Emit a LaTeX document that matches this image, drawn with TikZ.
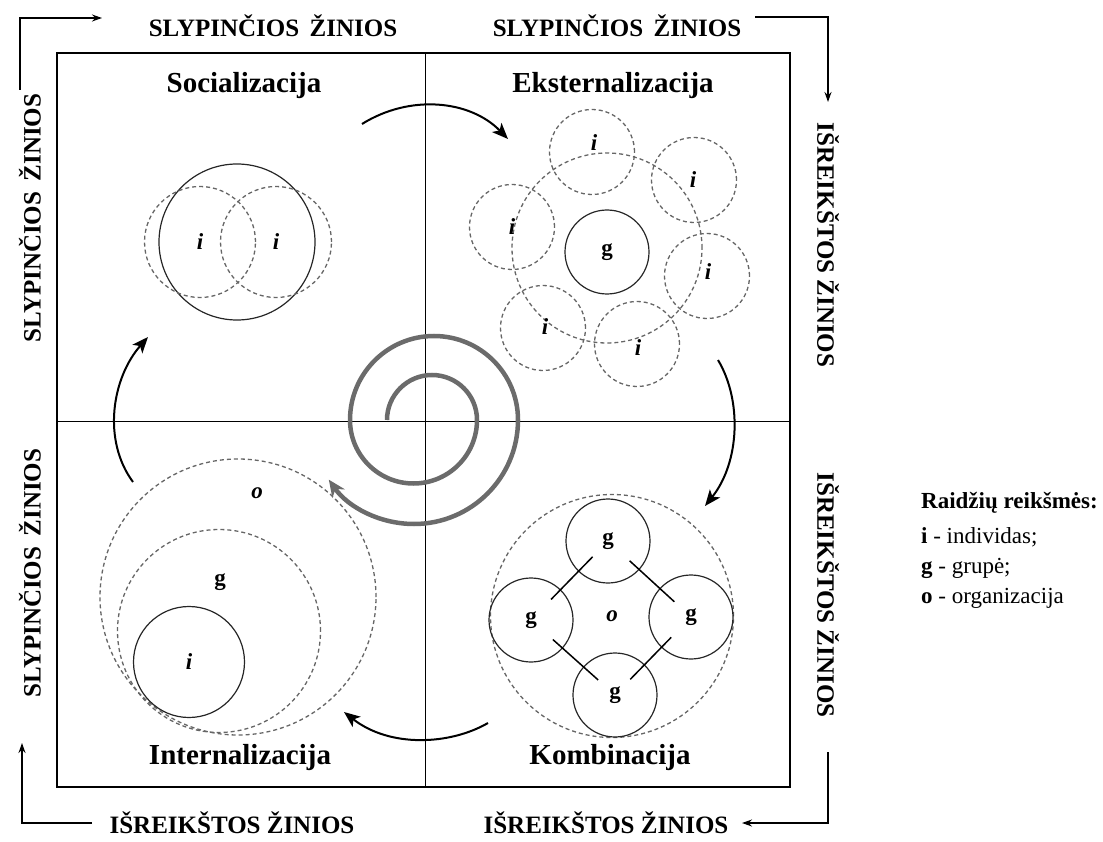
\documentclass[tikz,border=0pt]{standalone}
\usepackage{fontspec}
\setmainfont{Liberation Serif}
\usetikzlibrary{arrows.meta,calc}
\begin{document}
\begin{tikzpicture}[x=1pt,y=-1pt,
  head/.style={font=\fontsize{25}{29}\selectfont\bfseries, inner sep=0pt},
  quad/.style={font=\fontsize{29}{33}\selectfont\bfseries, inner sep=0pt},
  legend/.style={font=\fontsize{23}{27}\selectfont, inner sep=0pt, anchor=west},
  dcirc/.style={circle, draw=black!60, dash pattern=on 4pt off 3pt, line width=1.3pt, inner sep=0pt, font=\fontsize{23}{26}\selectfont\bfseries},
  scirc/.style={circle, draw=black!85, line width=1.2pt, inner sep=0pt, font=\fontsize{23}{26}\selectfont\bfseries},
  letter/.style={font=\fontsize{23}{26}\selectfont\bfseries, inner sep=0pt},
  corner/.style={line width=1.6pt, -{Stealth[length=10pt,width=7pt]}},
  cyc/.style={line width=2pt, -{Stealth[length=16pt,width=13pt,inset=4pt]}},
  spiral/.style={line width=4.5pt, draw=black!58, -{Stealth[length=17pt,width=15pt]}},
  link/.style={line width=1.5pt}
]
\useasboundingbox (0,0) rectangle (1103,842);

% frame
\draw[line width=1.5pt] (57,53) rectangle (790,787);
\draw[line width=1pt] (425,53) -- (425,787);
\draw[line width=1pt] (57,421) -- (790,421);

% outer headings
\node[head] (tt1) at (273,26) {SLYPINČIOS\, ŽINIOS};
\node[head] (tt2) at (617,26) {SLYPINČIOS\, ŽINIOS};
\node[head] (bt1) at (232,823) {IŠREIKŠTOS ŽINIOS};
\node[head] (bt2) at (606,823) {IŠREIKŠTOS ŽINIOS};
\node[head, rotate=90] (lt1) at (30,218) {SLYPINČIOS\, ŽINIOS};
\node[head, rotate=90] (lt2) at (30,573) {SLYPINČIOS\, ŽINIOS};
\node[head, rotate=-90] (rt1) at (828,245) {IŠREIKŠTOS ŽINIOS};
\node[head, rotate=-90] (rt2) at (828,595) {IŠREIKŠTOS ŽINIOS};

% corner arrows
\coordinate (a1) at (20,90); \coordinate (a2) at (20,18); \coordinate (a3) at (102,18);
\draw[corner] (a1) -- (a2) -- (a3);
\coordinate (b1) at (755,17); \coordinate (b2) at (828,17); \coordinate (b3) at (828,102);
\draw[corner] (b1) -- (b2) -- (b3);
\coordinate (c1) at (828,752); \coordinate (c2) at (828,823); \coordinate (c3) at (742,823);
\draw[corner] (c1) -- (c2) -- (c3);
\coordinate (d1) at (92,823); \coordinate (d2) at (22,823); \coordinate (d3) at (22,743);
\draw[corner] (d1) -- (d2) -- (d3);

% quadrant titles
\node[quad] (q1) at (244,86) {Socializacija};
\node[quad] (q2) at (613,86) {Eksternalizacija};
\node[quad] (q3) at (240,758) {Internalizacija};
\node[quad] (q4) at (610,758) {Kombinacija};

% Socialization
\node[scirc, minimum size=156pt] (s0) at (237,242) {};
\node[dcirc, minimum size=111pt] (s1) at (200,242) {\itshape i};
\node[dcirc, minimum size=111pt] (s2) at (276,242) {\itshape i};

% Externalization
\node[dcirc, minimum size=190pt] (e0) at (607,248) {};
\node[scirc, minimum size=84pt] (eg) at (607,252) {g};
\node[dcirc, minimum size=85pt] (e1) at (592,152) {};
\node[dcirc, minimum size=85pt] (e2) at (694,180) {};
\node[dcirc, minimum size=85pt] (e3) at (707,276) {};
\node[dcirc, minimum size=85pt] (e4) at (637,344) {};
\node[dcirc, minimum size=85pt] (e5) at (543,328) {};
\node[dcirc, minimum size=85pt] (e6) at (512,227) {};
\node[letter] (ei1) at (594,143) {\itshape i};
\node[letter] (ei2) at (693,180) {\itshape i};
\node[letter] (ei3) at (708,272) {\itshape i};
\node[letter] (ei4) at (638,348) {\itshape i};
\node[letter] (ei5) at (545,327) {\itshape i};
\node[letter] (ei6) at (512,227) {\itshape i};

% Internalization
\node[dcirc, minimum size=276pt] (io) at (238,597) {};
\node[dcirc, minimum size=203pt] (ig) at (219,631) {};
\node[scirc, minimum size=111pt] (ii) at (189,662) {\itshape i};
\node[letter] (lo) at (257,493) {\itshape o};
\node[letter] (lg) at (220,582) {g};

% Combination
\node[dcirc, minimum size=243pt] (ko) at (612,616) {\itshape o};
\node[scirc, minimum size=84pt] (gt) at (608,541) {g};
\node[scirc, minimum size=84pt] (gl) at (531,620) {g};
\node[scirc, minimum size=84pt] (gr) at (691,617) {g};
\node[scirc, minimum size=84pt] (gb) at (615,695) {g};
\draw[link] ($(gt)!0.2!(gl)$) -- ($(gt)!0.74!(gl)$);
\draw[link] ($(gt)!0.26!(gr)$) -- ($(gt)!0.8!(gr)$);
\draw[link] ($(gl)!0.26!(gb)$) -- ($(gl)!0.8!(gb)$);
\draw[link] ($(gr)!0.26!(gb)$) -- ($(gr)!0.8!(gb)$);

% cycle arrows
\coordinate (t1) at (362,124); \coordinate (t2) at (508,139);
\draw[cyc] (t1) .. controls (410,94) and (470,100) .. (t2);
\coordinate (r1) at (718,360); \coordinate (r2) at (705,506);
\draw[cyc] (r1) .. controls (742,400) and (740,462) .. (r2);
\coordinate (u1) at (488,723); \coordinate (u2) at (344,712);
\draw[cyc] (u1) .. controls (450,745) and (390,748) .. (u2);
\coordinate (l1) at (133,482); \coordinate (l2) at (148,337);
\draw[cyc] (l1) .. controls (102,440) and (112,378) .. (l2);

% spiral
\coordinate (sp) at (387,420);
\draw[spiral] (sp) arc[start angle=180,end angle=360,radius=45]
  arc[start angle=0,end angle=180,radius=63.5]
  arc[start angle=180,end angle=360,radius=84]
  arc[start angle=0,end angle=145,radius=104];

% legend
\node[legend] (L0) at (921,503) {\bfseries Raidžių reikšmės:};
\node[legend] (L1) at (921,537) {\textbf{i} - individas;};
\node[legend] (L2) at (921,568) {\textbf{g} - grupė;};
\node[legend] (L3) at (921,598) {\textbf{o} - organizacija};
\end{tikzpicture}
\end{document}
